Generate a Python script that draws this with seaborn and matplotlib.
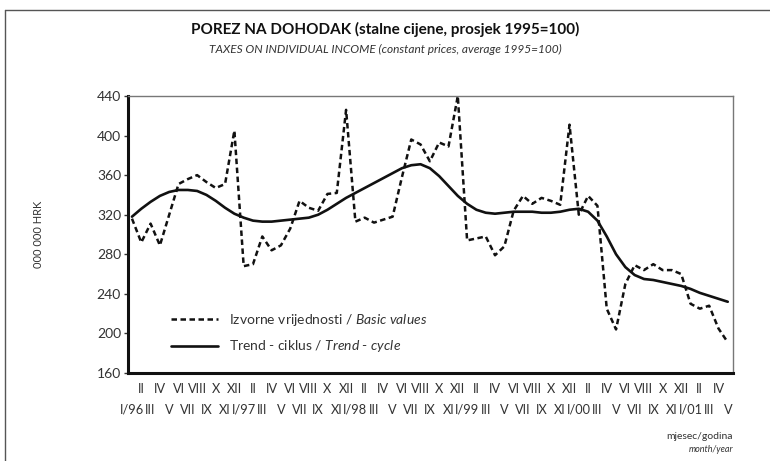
import matplotlib
matplotlib.use("Agg")
import matplotlib.pyplot as plt
import pandas as pd
import seaborn as sns
from matplotlib.lines import Line2D

# Monthly data, I/1996 - V/2001
basic_values = [
    316, 292, 311, 289, 320, 351, 356, 360, 353, 347, 351, 405,   # 1996
    268, 270, 298, 284, 289, 306, 334, 327, 324, 341, 342, 426,   # 1997
    313, 317, 312, 315, 318, 358, 396, 391, 374, 393, 389, 440,   # 1998
    294, 296, 298, 279, 288, 324, 339, 331, 337, 334, 330, 411,   # 1999
    320, 339, 329, 225, 204, 250, 269, 264, 270, 264, 264, 260,   # 2000
    230, 225, 228, 205, 191,                                      # 2001
]
trend_cycle = [
    318, 326, 333, 339, 343, 345, 345, 344, 340, 334, 327, 321,
    317, 314, 313, 313, 314, 315, 316, 317, 320, 325, 331, 337,
    342, 347, 352, 357, 362, 367, 370, 371, 367, 359, 349, 339,
    331, 325, 322, 321, 322, 323, 323, 323, 322, 322, 323, 325,
    326, 323, 314, 298, 280, 267, 259, 255, 254, 252, 250, 248,
    245, 241, 238, 235, 232,
]
months = ["I", "II", "III", "IV", "V", "VI", "VII", "VIII", "IX", "X", "XI", "XII"]
years = ["96", "97", "98", "99", "00", "01"]

month_labels = []
for k in range(len(basic_values)):
    m = months[k % 12]
    if k % 12 == 0:
        m = f"I/{years[k // 12]}"
    month_labels.append(m)

df = pd.DataFrame({
    "t": range(len(basic_values)),
    "basic": basic_values,
    "trend": trend_cycle,
})

sns.set_theme(style="white")
plt.rcParams["font.family"] = ["Lato", "DejaVu Sans"]
plt.rcParams["mathtext.fontset"] = "custom"
plt.rcParams["mathtext.rm"] = "Lato"
plt.rcParams["mathtext.it"] = "Lato:italic"

TXT = "#333333"

fig = plt.figure(figsize=(7.7, 4.61), dpi=100)
ax = fig.add_axes([0.1662, 0.1909, 0.7856, 0.6009])

sns.lineplot(data=df, x="t", y="basic", ax=ax, color="#111111", linewidth=1.8,
             dashes=False, linestyle=(0, (2.2, 1.4)),
             label=r"Izvorne vrijednosti / $\mathit{Basic\ values}$")
sns.lineplot(data=df, x="t", y="trend", ax=ax, color="#111111", linewidth=1.9,
             label=r"Trend - ciklus / $\mathit{Trend}$ - $\mathit{cycle}$")

ax.set_xlim(-0.43, 64.55)
ax.set_ylim(160, 440)
ax.set_yticks(range(160, 441, 40))
ax.tick_params(axis="y", length=3, width=1, color="#333333", labelsize=10,
               labelcolor=TXT, left=True, pad=2)

# alternating two-row month labels
ax.set_xticks(df["t"][1::2])
ax.set_xticklabels(month_labels[1::2])
ax.set_xticks(df["t"][0::2], minor=True)
ax.set_xticklabels(month_labels[0::2], minor=True)
ax.tick_params(axis="x", which="major", length=0, pad=7, labelsize=9.2, labelcolor=TXT)
ax.tick_params(axis="x", which="minor", length=0, pad=22, labelsize=9.2, labelcolor=TXT)

ax.set_xlabel("")
ax.set_ylabel("000 000 HRK", fontsize=8, color=TXT, labelpad=38)

for side in ["left", "bottom"]:
    ax.spines[side].set_color("#111111")
    ax.spines[side].set_linewidth(2.2)
for side in ["top", "right"]:
    ax.spines[side].set_color("#777777")
    ax.spines[side].set_linewidth(1)

ax.legend(loc="lower left", bbox_to_anchor=(0.05, 0.022), frameon=False,
          fontsize=10, handlelength=3.4, labelspacing=0.75, labelcolor=TXT)

fig.text(0.5, 0.935, "POREZ NA DOHODAK (stalne cijene, prosjek 1995=100)",
         ha="center", va="center", fontsize=11, fontweight="bold", color="#111111")
fig.text(0.5, 0.892, "TAXES ON INDIVIDUAL INCOME (constant prices, average 1995=100)",
         ha="center", va="center", fontsize=8.6, style="italic", color=TXT)
fig.text(0.952, 0.054, "mjesec/godina", ha="right", va="center", fontsize=7.5, color=TXT)
fig.text(0.952, 0.024, "month/year", ha="right", va="center", fontsize=6.5,
         style="italic", color=TXT)

# outer frame (left and top edges)
fig.add_artist(Line2D([0.0065, 0.0065], [0.0, 0.978], color="#555555", linewidth=1))
fig.add_artist(Line2D([0.0065, 1.0], [0.978, 0.978], color="#555555", linewidth=1))

fig.savefig("out.png", dpi=100)
